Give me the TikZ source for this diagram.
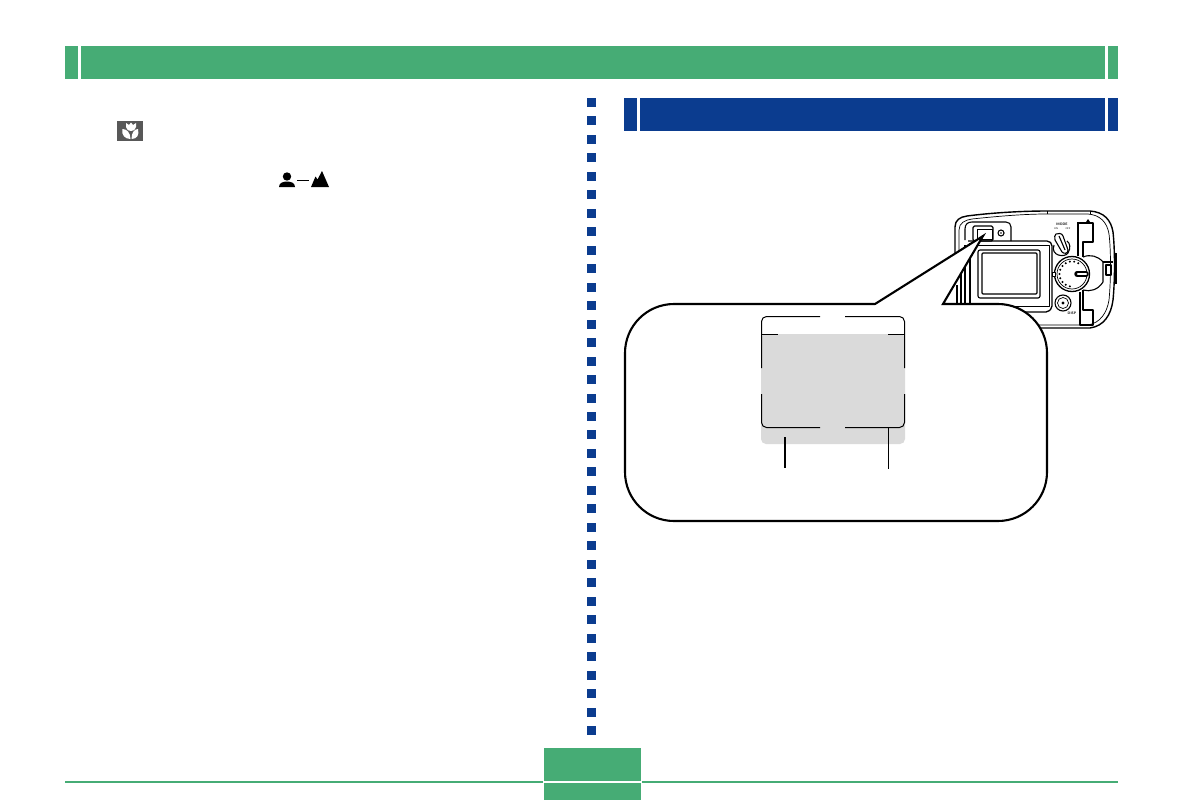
\documentclass[tikz,border=0pt]{standalone}
\usepackage{tikz}
\usetikzlibrary{calc}
\definecolor{HeadGreen}{RGB}{70,172,117}
\definecolor{HeadBlue}{RGB}{11,60,143}
\definecolor{ScreenGray}{RGB}{218,218,218}
\definecolor{IconGray}{RGB}{88,88,88}
\tikzset{
	greenbar/.style={fill=HeadGreen},
	bluebar/.style={fill=HeadBlue},
	cam/.style={draw=black, line width=1.1pt, fill=none, line join=round},
	camthin/.style={draw=black, line width=0.7pt, line join=round},
	callout/.style={draw=black, fill=white, line width=2.1pt, line join=miter},
	framed/.style={draw=black, line width=1pt},
	tiny/.style={inner sep=0pt, font=\sffamily\bfseries\fontsize{3.5}{3.5}\selectfont}
}
\begin{document}
\begin{tikzpicture}[x=1pt, y=-1pt]
	\useasboundingbox (0,0) rectangle (1183,800);
	\fill[white] (0,0) rectangle (1183,800);
	\fill[greenbar] (65,46) rectangle (78,79);
	\fill[greenbar] (81,46) rectangle (1105,79);
	\fill[greenbar] (1108,46) rectangle (1118,79);
	\fill[bluebar] (624,98) rectangle (637,131);
	\fill[bluebar] (640,98) rectangle (1105,131);
	\fill[bluebar] (1108,98) rectangle (1118,131);
	\foreach \i in {0,...,34}
	\fill[bluebar] (587,{98+18.47*\i}) rectangle (596,{107+18.47*\i});
	\fill[greenbar] (65,781) rectangle (543,783);
	\fill[greenbar] (642,781) rectangle (1118,783);
	\fill[greenbar] (544,748) rectangle (641,781);
	\fill[greenbar] (544,783) rectangle (641,800);
	
	\fill[IconGray] (117,121) rectangle (143,141);
	\fill[white] (126,123) -- (129,125) -- (131,122.5) -- (133,125) -- (136,123) -- (136,127) .. controls (136,130) and (133,131) .. (131,131) .. controls (129,131) and (126,130) .. (126,127) -- cycle;
	\fill[white] (122.5,129) .. controls (127,129) and (130.5,133) .. (130.5,139) .. controls (125,139) and (121,135) .. (122.5,129) -- cycle;
	\fill[white] (138,129) .. controls (134,129) and (131.5,133) .. (131.5,139) .. controls (137,139) and (139.5,135) .. (138,129) -- cycle;
	
	\fill (287,176.5) circle (4.2);
	\fill (279,187) .. controls (279,183) and (283,181.5) .. (287,181.5) .. controls (291,181.5) and (295,183) .. (295,187) -- cycle;
	\fill (297,180) rectangle (309,181.2);
	\fill (311,187) -- (315.5,176.5) -- (317.5,179.5) -- (322,171) -- (329,187) -- cycle;
	
	\draw[cam, line width=1.4pt] (955,262) -- (955,227) .. controls (955,220) and (960,217) .. (967,216) .. controls (990,213) and (1020,211) .. (1047,211) -- (1090,211) .. controls (1104,212) and (1111,220) .. (1113,232) .. controls (1115,250) and (1115,280) .. (1113,300) .. controls (1111,315) and (1104,326) .. (1090,328) -- (1035,328);
	\draw[camthin] (959,255) -- (959,230) .. controls (959,223) and (965,220) .. (972,219) .. controls (1000,216) and (1025,214) .. (1047,214) -- (1088,214) .. controls (1100,215) and (1107,222) .. (1109,234) .. controls (1111,250) and (1111,280) .. (1109,300) .. controls (1107,313) and (1100,323) .. (1088,325) -- (1035,325);
	\draw[camthin] (1047,211) -- (1047,214);
	\draw[camthin] (1090,211) -- (1090,214);
	
	\draw[cam] (965,240) -- (965,229) .. controls (965,224) and (968,222) .. (972,222) -- (1006,222) .. controls (1009,222) and (1011,224) .. (1011,227) -- (1011,241);
	\draw[cam, rounded corners=1.5pt] (973,226) rectangle (993,241);
	\draw[camthin] (977,229) rectangle (992,239);
	\draw[cam] (1001,233) circle (3);
	\fill (1001,233) circle (0.9);
	
	\draw[cam, line width=1.3pt, rounded corners=2pt] (968,241) -- (1049,241) -- (1052,244) -- (1052,308) -- (1048,312) -- (990,312);
	\draw[cam, rounded corners=2pt] (978,250) rectangle (1040,298);
	\draw[cam, rounded corners=1pt] (982,253) rectangle (1037,294);
	\draw[camthin] (972,245) -- (1049,245) -- (1049,306) -- (990,306);
	\foreach \x/\y in {957/285,961/265,965/245,970/243}
	\draw[cam] (\x,\y) -- (\x,304);
	
	\draw[cam] (1056,234) .. controls (1058,233) and (1062,233) .. (1063,236) -- (1068,250) .. controls (1068,254) and (1064,254) .. (1062,252) -- (1055,240) .. controls (1054,237) and (1055,235) .. (1056,234) -- cycle;
	\draw[cam] (1059,236) -- (1065,250);
	\draw[cam] (1054,245) .. controls (1050,256) and (1065,258) .. (1068,253) .. controls (1071,248) and (1070,243) .. (1067,241);
	\node[tiny] (mode) at (1062,224) {MODE};
	\node[tiny, font=\sffamily\fontsize{2.5}{2.5}\selectfont] (on) at (1056,228.5) {ON};
	\node[tiny, font=\sffamily\fontsize{2.5}{2.5}\selectfont] (off) at (1068,228.5) {OFF};
	
	\draw[cam, line width=1.3pt] (1072,274) circle (17.5);
	\draw[camthin] (1072,274) circle (15);
	\foreach \a in {100,120,...,300}
	\fill ($(1072,274)+(\a:12.5)$) circle (1.1);
	\draw[line width=5.5pt, line cap=round] (1077,274) -- (1086,274);
	\draw[white, line width=2.2pt, line cap=round] (1078,274) -- (1086,274);
	\draw[camthin, fill=white] (1052,272) rectangle (1055,276);
	
	\draw[cam] (1063,303) circle (8);
	\draw[camthin] (1063,303) circle (5.5);
	\fill (1063,303) circle (1.7);
	\node[tiny] (disp) at (1072,313) {DISP};
	
	\draw[cam] (1078,222) -- (1078,256) (1080,292) -- (1080,325) -- (1093,325) -- (1093,310) -- (1083,310) -- (1083,290);
	\draw[cam] (1078,223) -- (1093,223) -- (1093,242) -- (1083,242) -- (1083,257);
	\draw[cam] (1083,257) .. controls (1090,254) and (1098,256) .. (1103,262) -- (1103,282) .. controls (1098,290) and (1090,292) .. (1083,290);
	\draw[cam] (1103,262) -- (1113,262);
	\draw[cam] (1106,265) rectangle (1111,275);
	\draw[line width=2pt] (1116,253) -- (1116,284);
	\fill (1086,222) -- (1088,219) -- (1090,222) -- cycle;
	
	\path[callout] (875,304) -- (983,236) -- (943,304) [rounded corners=49pt] -- (1047,304) -- (1047,521) -- (625,521) -- (625,304) [sharp corners] -- (875,304);
	
	\fill[ScreenGray, rounded corners=5pt] (761,334) -- (905,334) -- (905,444) -- (761,444) -- cycle;
	\draw[framed, rounded corners=5pt] (820,316.5) -- (761.5,316.5) -- (761.5,368);
	\draw[framed, rounded corners=5pt] (845,316.5) -- (904.5,316.5) -- (904.5,368);
	\draw[framed, rounded corners=5pt] (761.5,394) -- (761.5,427.5) -- (820,427.5);
	\draw[framed, rounded corners=5pt] (904.5,394) -- (904.5,427.5) -- (845,427.5);
	\draw[framed] (761,334.5) -- (778,334.5);
	\draw[framed] (888,334.5) -- (905,334.5);
	
	\coordinate (leftmark) at (785,437);
	\coordinate (leftend) at (785,468);
	\coordinate (rightmark) at (888.5,427);
	\coordinate (rightend) at (888.5,469);
	\draw[line width=2pt] (leftmark) -- (leftend);
	\draw[line width=1pt] (rightmark) -- (rightend);
\end{tikzpicture}
\end{document}
